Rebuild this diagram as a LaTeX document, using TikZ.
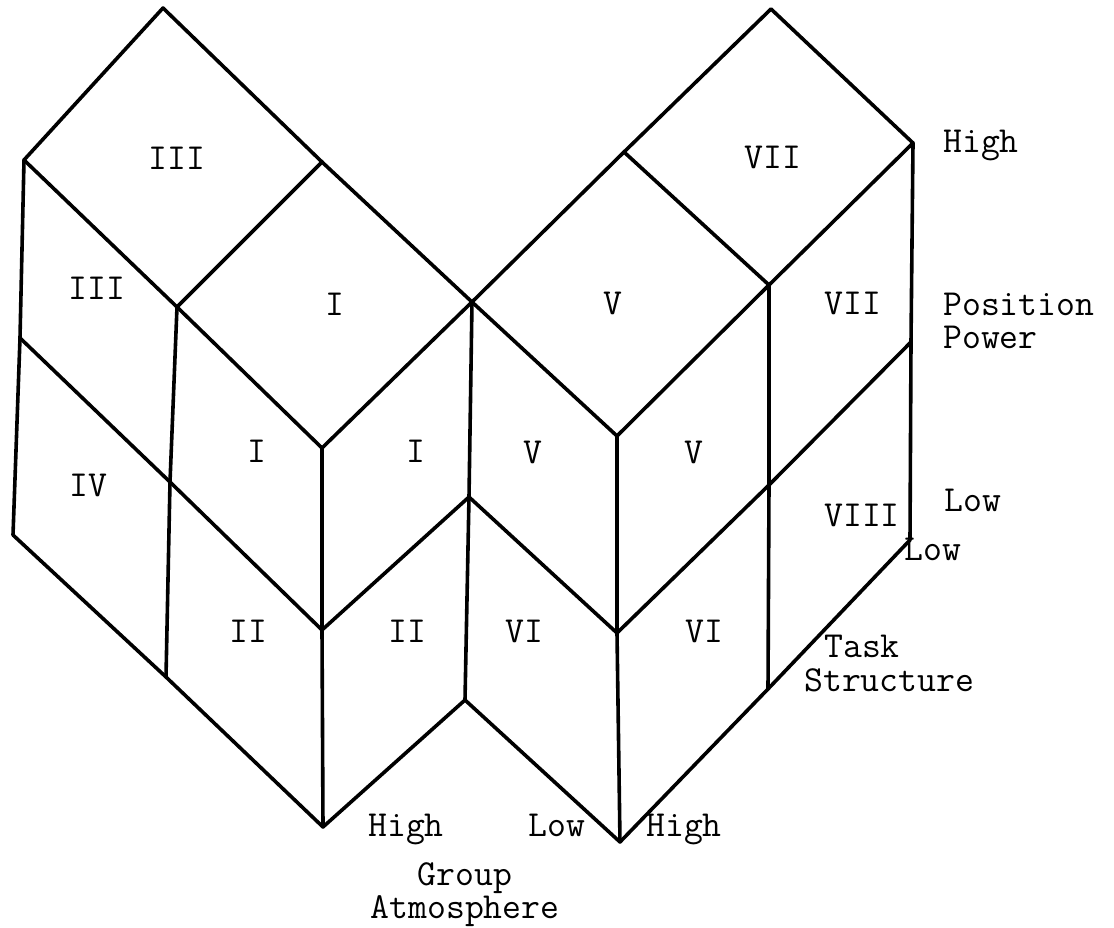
\documentclass[tikz,border=0pt]{standalone}
\usepackage{fontspec}
\usepackage{tikz}

\begin{document}
\begin{tikzpicture}[x=0.75pt,y=0.75pt,yscale=-1,xscale=1,
	edge/.style={line width=2.7, line cap=round, line join=round},
	cell/.style={inner sep=0.75pt, font=\fontsize{27.5}{24.75}\selectfont\ttfamily},
	axis/.style={cell, anchor=base west}]
	\useasboundingbox (0,0) rectangle (1114,928);
	
	% corners of the left block
	\coordinate (aTop) at (163,8);
	\coordinate (aLeft) at (24,160);
	\coordinate (aRight) at (322,162);
	\coordinate (aHub) at (177,307);
	\coordinate (aFront) at (322,448);
	\coordinate (aEnd) at (472,302);
	\coordinate (aLeftMid) at (20,338);
	\coordinate (aLeftBot) at (13,535);
	\coordinate (aHubMid) at (170,482);
	\coordinate (aHubBot) at (166,677);
	\coordinate (aFrontMid) at (322,630);
	\coordinate (aFrontBot) at (323,827);
	\coordinate (aEndMid) at (469,497);
	\coordinate (aEndBot) at (465,700);
	% corners of the right block
	\coordinate (bTop) at (771,9);
	\coordinate (bLeft) at (624,152);
	\coordinate (bRight) at (913,143);
	\coordinate (bHub) at (769,285);
	\coordinate (bFront) at (617,436);
	\coordinate (bFrontMid) at (617,633);
	\coordinate (bFrontBot) at (620,842);
	\coordinate (bHubMid) at (769,485);
	\coordinate (bHubBot) at (768,689);
	\coordinate (bRightMid) at (911,342);
	\coordinate (bRightBot) at (910,540);
	
	%Left block: top face
	\draw [edge] (aLeft) -- (aTop) -- (aRight) -- (aEnd) ;
	\draw [edge] (aLeft) -- (aHub) -- (aFront) -- (aEnd) ;
	\draw [edge] (aHub) -- (aRight) ;
	%Left block: uprights
	\draw [edge] (aLeft) -- (aLeftMid) -- (aLeftBot) ;
	\draw [edge] (aHub) -- (aHubMid) -- (aHubBot) ;
	\draw [edge] (aFront) -- (aFrontMid) -- (aFrontBot) ;
	\draw [edge] (aEnd) -- (aEndMid) -- (aEndBot) ;
	%Left block: middle and bottom
	\draw [edge] (aLeftMid) -- (aHubMid) -- (aFrontMid) -- (aEndMid) ;
	\draw [edge] (aLeftBot) -- (aHubBot) -- (aFrontBot) -- (aEndBot) ;
	
	%Right block: top face
	\draw [edge] (aEnd) -- (bLeft) -- (bTop) -- (bRight) ;
	\draw [edge] (aEnd) -- (bFront) -- (bHub) -- (bRight) ;
	\draw [edge] (bLeft) -- (bHub) ;
	%Right block: uprights
	\draw [edge] (bFront) -- (bFrontMid) -- (bFrontBot) ;
	\draw [edge] (bHub) -- (bHubMid) -- (bHubBot) ;
	\draw [edge] (bRight) -- (bRightMid) -- (bRightBot) ;
	%Right block: middle and bottom
	\draw [edge] (aEndMid) -- (bFrontMid) -- (bHubMid) -- (bRightMid) ;
	\draw [edge] (aEndBot) -- (bFrontBot) -- (bHubBot) -- (bRightBot) ;
	
	% Text Node
	\node [cell] (topIII) at (177,158) {III};
	% Text Node
	\node [cell] (sideIII) at (97,288) {III};
	% Text Node
	\node [cell] (topI) at (335,304) {I};
	% Text Node
	\node [cell] (leftI) at (257,451) {I};
	% Text Node
	\node [cell] (rightI) at (416,451) {I};
	% Text Node
	\node [cell] (sideIV) at (88,485) {IV};
	% Text Node
	\node [cell] (leftII) at (248,631) {II};
	% Text Node
	\node [cell] (rightII) at (407,631) {II};
	% Text Node
	\node [cell] (topV) at (613,303) {V};
	% Text Node
	\node [cell] (topVII) at (773,157) {VII};
	% Text Node
	\node [cell] (sideVII) at (853,303) {VII};
	% Text Node
	\node [cell] (leftV) at (533,452) {V};
	% Text Node
	\node [cell] (rightV) at (694,452) {V};
	% Text Node
	\node [cell] (leftVI) at (524,631) {VI};
	% Text Node
	\node [cell] (rightVI) at (704,631) {VI};
	% Text Node
	\node [cell] (sideVIII) at (862,515) {VIII};
	
	% Text Node
	\node [axis] (powHigh) at (942,152) {High};
	% Text Node
	\node [axis, align=left] (powName) at (942,348) {Position\\Power};
	% Text Node
	\node [axis] (powLow) at (943,511) {Low};
	% Text Node
	\node [axis] (taskLow) at (903,560) {Low};
	% Text Node
	\node [axis] (taskName) at (823,657) {Task};
	% Text Node
	\node [axis] (taskNameB) at (803,691) {Structure};
	% Text Node
	\node [axis] (grpHighA) at (367,836) {High};
	% Text Node
	\node [axis] (grpLow) at (527,836) {Low};
	% Text Node
	\node [axis] (grpHighB) at (645,836) {High};
	% Text Node
	\node [axis, anchor=base, align=center] (grpName) at (465,918) {Group\\Atmosphere};
	
\end{tikzpicture}
\end{document}
